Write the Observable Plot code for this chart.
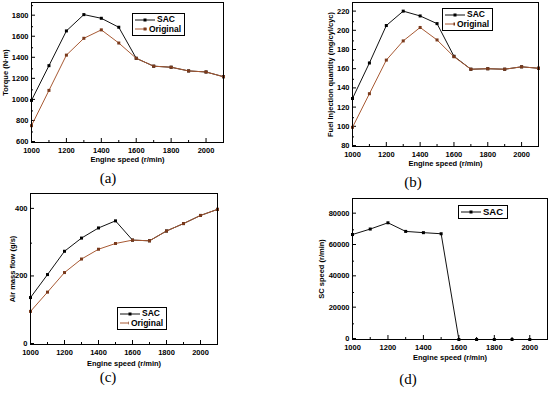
<!DOCTYPE html>
<html><head><meta charset="utf-8">
<script src="https://cdn.jsdelivr.net/npm/d3@7"></script>
<script src="https://cdn.jsdelivr.net/npm/@observablehq/plot@0.6"></script>
<style>
body{margin:0;background:#fff;}
#root{position:relative;width:550px;height:393px;overflow:hidden;font-family:"Liberation Sans",Arial,sans-serif;}
.pan{position:absolute;}
.cap{position:absolute;font-family:"Liberation Serif","Times New Roman",serif;font-size:15px;transform:translate(-50%,-50%);}
.leg{position:absolute;border:1px solid #000;background:#fff;font-weight:bold;font-size:8.5px;line-height:9.5px;padding:1px 3px 1px 2px;box-sizing:border-box;}
.leg div{display:flex;align-items:center;white-space:nowrap;}
.leg svg{margin-right:2px;}
</style></head>
<body><div id="root"></div>
<script>
// ---------- data ----------
const speed = [1000, 1100, 1200, 1300, 1400, 1500, 1600, 1700, 1800, 1900, 2000, 2100];
const torqueSAC  = [1000, 1330, 1660, 1815, 1780, 1695, 1400, 1325, 1315, 1280, 1270, 1225];
const torqueOrig = [760, 1095, 1430, 1590, 1670, 1545, 1400, 1325, 1315, 1280, 1270, 1225];
const fuelSAC  = [130, 167, 206, 221, 216, 208, 174, 160.5, 161, 160.5, 163, 161.5];
const fuelOrig = [100, 135, 170, 190, 204, 191, 173.5, 160.5, 161, 160.5, 163, 161.5];
const airSAC  = [139, 207, 276, 315, 345, 366, 309, 307, 336, 358, 382, 400];
const airOrig = [98, 155, 213, 253, 282, 299, 309, 307, 336, 358, 382, 400];
const scSpeed = [67000, 70500, 74500, 69000, 68200, 67500, 0, 0, 0, 0, 0];
const xTicks = [1000, 1200, 1400, 1600, 1800, 2000];
const xMinor = [1100, 1300, 1500, 1700, 1900, 2100];
const torqueTicks = [600, 800, 1000, 1200, 1400, 1600, 1800];
const torqueMinor = [700, 900, 1100, 1300, 1500, 1700, 1900];
const fuelTicks = [80, 100, 120, 140, 160, 180, 200, 220];
const fuelMinor = [90, 110, 130, 150, 170, 190, 210, 230];
const airTicks = [0, 200, 400];
const airMinor = [100, 300];
const scTicks = [0, 20000, 40000, 60000, 80000];
const scMinor = [10000, 30000, 50000, 70000, 90000];
const seriesNames = ["SAC", "Original"];
const colors = {SAC: "#111111", Original: "#a85a34"};
const markColors = {SAC: "#000000", Original: "#7a3a1c"};

function rows(xs, ys, name) { return ys.map((v, i) => ({x: xs[i], y: v, s: name})); }

const root = document.getElementById("root");

function panel(cfg) {
  const data = cfg.series.flatMap(([name, vals]) => rows(speed, vals, name));
  const marks = [
    Plot.axisX({ticks: xTicks, tickSize: -4, tickPadding: 9, tickFormat: "d", label: cfg.xLabel, labelAnchor: "center", labelOffset: cfg.xLabelOffset, labelArrow: "none"}),
    Plot.axisX({ticks: xMinor, tickSize: -2, tickFormat: () => "", label: null}),
    Plot.axisY({ticks: cfg.yTicks, tickSize: -4, tickPadding: 7, dy: -1, tickFormat: "d", label: cfg.yLabel, labelAnchor: "center", labelOffset: cfg.yLabelOffset, labelArrow: "none"}),
    Plot.axisY({ticks: cfg.yMinor, tickSize: -2, tickFormat: () => "", label: null}),
  ];
  for (const [name] of cfg.series) {
    const d = data.filter(r => r.s === name);
    marks.push(Plot.line(d, {x: "x", y: "y", stroke: colors[name], strokeWidth: 1}));
    marks.push(Plot.dot(d, {x: "x", y: "y", symbol: "square", r: 1.7, fill: markColors[name], stroke: "none"}));
  }
  marks.push(Plot.frame({stroke: "#000", strokeWidth: 1}));
  const svg = Plot.plot({
    width: cfg.width, height: cfg.height,
    marginLeft: cfg.m[0], marginRight: cfg.m[1], marginTop: cfg.m[2], marginBottom: cfg.m[3],
    x: {domain: [1000, 2100], label: null},
    y: {domain: cfg.yDomain, label: null},
    style: {fontFamily: "'Liberation Sans', Arial, sans-serif", fontWeight: "bold", fontSize: "7.5px", color: "#000", background: "transparent", overflow: "visible"},
    marks
  });
  svg.classList.add("pan");
  svg.style.left = cfg.left + "px";
  svg.style.top = cfg.top + "px";
  root.appendChild(svg);

  const cap = document.createElement("div");
  cap.className = "cap";
  cap.textContent = cfg.cap[0];
  cap.style.left = cfg.cap[1] + "px";
  cap.style.top = cfg.cap[2] + "px";
  root.appendChild(cap);

  const leg = document.createElement("div");
  leg.className = "leg";
  leg.style.left = cfg.leg[0] + "px";
  leg.style.top = cfg.leg[1] + "px";
  leg.style.width = cfg.leg[2] + "px";
  if (cfg.leg[3]) leg.style.fontSize = cfg.leg[3] + "px";
  for (const [name] of cfg.series) {
    const row = document.createElement("div");
    row.innerHTML = `<svg width="20" height="6"><line x1="0" y1="3" x2="20" y2="3" stroke="${colors[name]}" stroke-width="1"/><rect x="8.5" y="1.5" width="3" height="3" fill="${markColors[name]}"/></svg>${name}`;
    leg.appendChild(row);
  }
  root.appendChild(leg);
}

panel({left: 0, top: 0, width: 230, height: 172, m: [31, 7, 2, 30],
  series: [["SAC", torqueSAC], ["Original", torqueOrig]],
  yDomain: [600, 1930], yTicks: torqueTicks, yMinor: torqueMinor,
  yLabel: "Torque (N·m)", yLabelOffset: 29, xLabel: "Engine speed (r/min)", xLabelOffset: 19,
  cap: ["(a)", 108, 178], leg: [132, 13, 53]});

panel({left: 275, top: 0, width: 275, height: 172, m: [77, 12, 2, 26],
  series: [["SAC", fuelSAC], ["Original", fuelOrig]],
  yDomain: [80, 230], yTicks: fuelTicks, yMinor: fuelMinor,
  yLabel: "Fuel Injection quantity (mg/cyl/cyc)", yLabelOffset: 25, xLabel: "Engine speed (r/min)", xLabelOffset: 19,
  cap: ["(b)", 413, 182], leg: [442, 8, 51]});

panel({left: 0, top: 190, width: 230, height: 180, m: [30, 13, 3, 26],
  series: [["SAC", airSAC], ["Original", airOrig]],
  yDomain: [0, 447], yTicks: airTicks, yMinor: airMinor,
  yLabel: "Air mass flow (g/s)", yLabelOffset: 21, xLabel: "Engine speed (r/min)", xLabelOffset: 21,
  cap: ["(c)", 108, 377], leg: [117, 307, 50]});

panel({left: 275, top: 190, width: 275, height: 180, m: [77, 3, 8, 31],
  series: [["SAC", scSpeed]],
  yDomain: [0, 90000], yTicks: scTicks, yMinor: scMinor,
  yLabel: "SC speed (r/min)", yLabelOffset: 34, xLabel: "Engine speed (r/min)", xLabelOffset: 20,
  cap: ["(d)", 408, 379], leg: [458, 205, 50, 9.5]});
</script></body></html>
